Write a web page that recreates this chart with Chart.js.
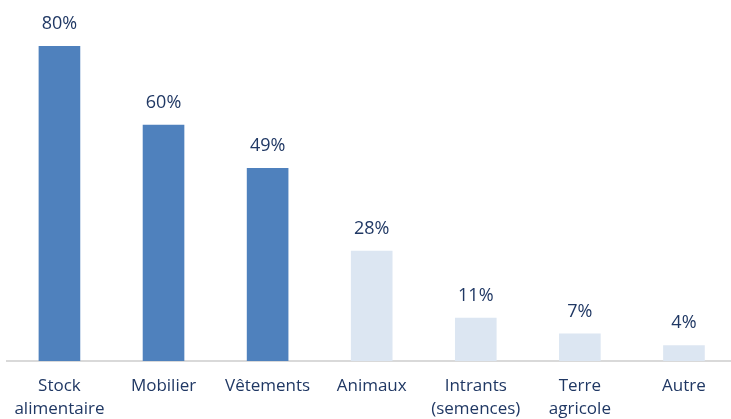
<!DOCTYPE html>
<html><head><meta charset="utf-8">
<script src="https://cdn.jsdelivr.net/npm/chart.js@4"></script>
<style>html,body{margin:0;padding:0;overflow:hidden;background:#fff}#wrap{width:737px;height:419px}</style>
</head><body>
<div id="wrap"><canvas id="c" width="736" height="419"></canvas></div>
<script>
const categories = [["Stock","alimentaire"],["Mobilier"],["Vêtements"],["Animaux"],["Intrants","(semences)"],["Terre","agricole"],["Autre"]];
const values = [80, 60, 49, 28, 11, 7, 4];
const barColors = ["#4F81BD","#4F81BD","#4F81BD","#DCE6F2","#DCE6F2","#DCE6F2","#DCE6F2"];
const textColor = "#203864";
const fontFamily = "'Open Sans', sans-serif";

const labelPlugin = {
  id: 'valLabels',
  afterDatasetsDraw(chart) {
    const ctx = chart.ctx;
    const meta = chart.getDatasetMeta(0);
    ctx.save();
    ctx.font = "18px " + fontFamily;
    ctx.fillStyle = textColor;
    ctx.textAlign = 'center';
    ctx.textBaseline = 'middle';
    meta.data.forEach((bar, i) => {
      ctx.fillText(values[i] + '%', bar.x, bar.y - 22);
    });
    ctx.restore();
  }
};

new Chart(document.getElementById('c'), {
  type: 'bar',
  data: {
    labels: categories,
    datasets: [{ data: values, backgroundColor: barColors, barPercentage: 0.5, categoryPercentage: 0.8 }]
  },
  options: {
    responsive: false,
    animation: false,
    layout: { padding: { top: 46, left: 6, right: 0, bottom: -16 } },
    plugins: { legend: { display: false }, tooltip: { enabled: false } },
    scales: {
      x: {
        grid: { display: false, drawTicks: false },
        border: { color: '#D9D9D9', width: 2 },
        ticks: { color: textColor, font: { family: fontFamily, size: 17, lineHeight: 1.35 }, padding: 14, maxRotation: 0, autoSkip: false }
      },
      y: { display: false, min: 0, max: 80 }
    }
  },
  plugins: [labelPlugin]
});
</script>
</body></html>
